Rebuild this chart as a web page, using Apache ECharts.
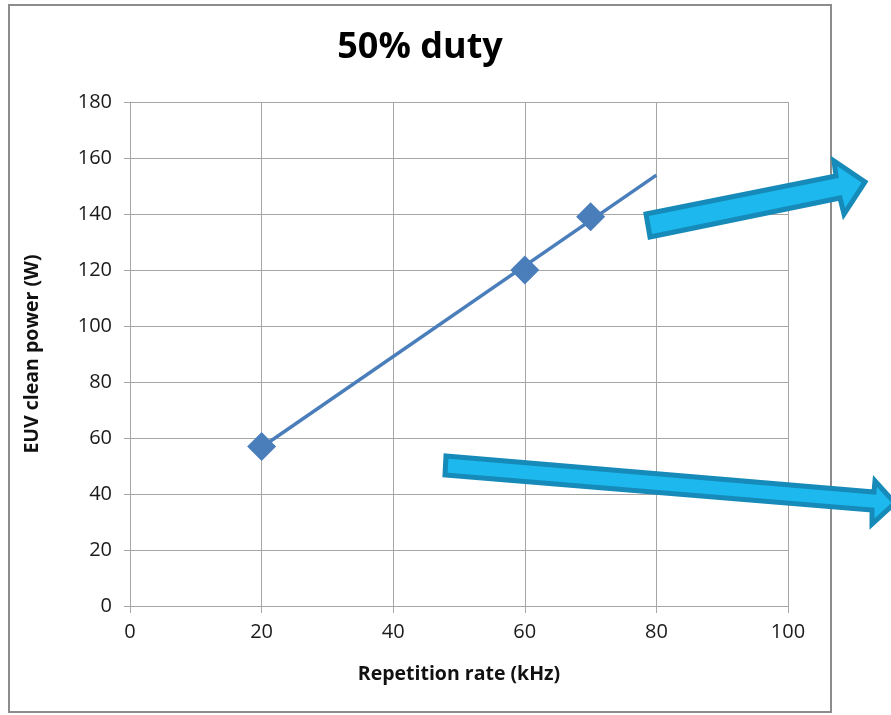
<!DOCTYPE html>
<html>
<head>
<meta charset="utf-8">
<script src="https://cdn.jsdelivr.net/npm/echarts@6/dist/echarts.min.js"></script>
<style>
  html, body { margin: 0; padding: 0; background: #ffffff; }
  #chart { width: 891px; height: 715px; }
</style>
</head>
<body>
<div id="chart"></div>
<script>
// Measured EUV clean power versus repetition rate at 50% duty
const repRateKHz = [20, 60, 70];
const cleanPowerW = [57, 120, 139];

// Linear trend line endpoints (kHz, W)
const trendRateKHz = [20, 80];
const trendPowerW = [56.7, 153.9];

// Axis ranges and tick steps
const xRange = [0, 100];
const xStep = 20;
const yRange = [0, 180];
const yStep = 20;

const titleText = '50% duty';
const xName = 'Repetition rate (kHz)';
const yName = 'EUV clean power (W)';

const chart = echarts.init(document.getElementById('chart'), null, { renderer: 'canvas' });

const gridColor = '#a6a6a6';
const labelFont = { fontFamily: 'Open Sans', fontSize: 20, color: '#1a1a1a' };
const nameFont = { fontFamily: 'Open Sans', fontWeight: 'bold', fontSize: 19.5, color: '#111111' };

const arrowFill = '#1cb8ee';
const arrowStroke = '#168ab8';

chart.setOption({
  backgroundColor: '#ffffff',
  animation: false,
  grid: { left: 130, right: 103, top: 102, bottom: 109 },
  xAxis: {
    type: 'value',
    min: xRange[0], max: xRange[1], interval: xStep,
    name: xName,
    nameLocation: 'middle',
    nameGap: 58,
    nameTextStyle: nameFont,
    axisLine: { show: true, lineStyle: { color: gridColor, width: 1 } },
    axisTick: { show: true, length: 7, lineStyle: { color: gridColor } },
    axisLabel: Object.assign({ margin: 16 }, labelFont),
    splitLine: { show: true, lineStyle: { color: gridColor, width: 1 } }
  },
  yAxis: {
    type: 'value',
    min: yRange[0], max: yRange[1], interval: yStep,
    name: yName,
    nameLocation: 'middle',
    nameGap: 88,
    nameTextStyle: nameFont,
    axisLine: { show: true, lineStyle: { color: gridColor, width: 1 } },
    axisTick: { show: true, length: 6, lineStyle: { color: gridColor } },
    axisLabel: Object.assign({ margin: 18 }, labelFont),
    splitLine: { show: true, lineStyle: { color: gridColor, width: 1 } }
  },
  series: [
    {
      name: 'trend',
      type: 'line',
      data: trendRateKHz.map((x, i) => [x, trendPowerW[i]]),
      showSymbol: false,
      symbol: 'none',
      lineStyle: { color: '#4a7ebb', width: 3.5 },
      z: 2
    },
    {
      name: 'measured',
      type: 'scatter',
      data: repRateKHz.map((x, i) => [x, cleanPowerW[i]]),
      symbol: 'diamond',
      symbolSize: [29, 29],
      itemStyle: { color: '#4a7ebb', opacity: 1 },
      z: 3
    }
  ],
  graphic: [
    {
      type: 'rect',
      shape: { x: 9, y: 5, width: 822, height: 707 },
      style: { fill: 'none', stroke: '#8c8c8c', lineWidth: 2 },
      silent: true, z: 0
    },
    {
      type: 'text',
      x: 420, y: 48,
      style: {
        text: titleText,
        fontFamily: 'Open Sans', fontWeight: 'bold', fontSize: 36,
        fill: '#000000', align: 'center', verticalAlign: 'middle'
      },
      silent: true, z: 10
    },
    {
      type: 'polygon',
      shape: { points: [[646, 214], [836, 176], [834, 161], [865, 182], [844, 214], [840, 198], [650, 237]] },
      style: { fill: arrowFill, stroke: arrowStroke, lineWidth: 5, lineJoin: 'miter' },
      silent: true, z: 20
    },
    {
      type: 'polygon',
      shape: { points: [[446, 456], [874, 492], [875, 481], [895, 503], [872, 524], [872, 510], [445, 475]] },
      style: { fill: arrowFill, stroke: arrowStroke, lineWidth: 5, lineJoin: 'miter' },
      silent: true, z: 20
    }
  ]
});
</script>
</body>
</html>
